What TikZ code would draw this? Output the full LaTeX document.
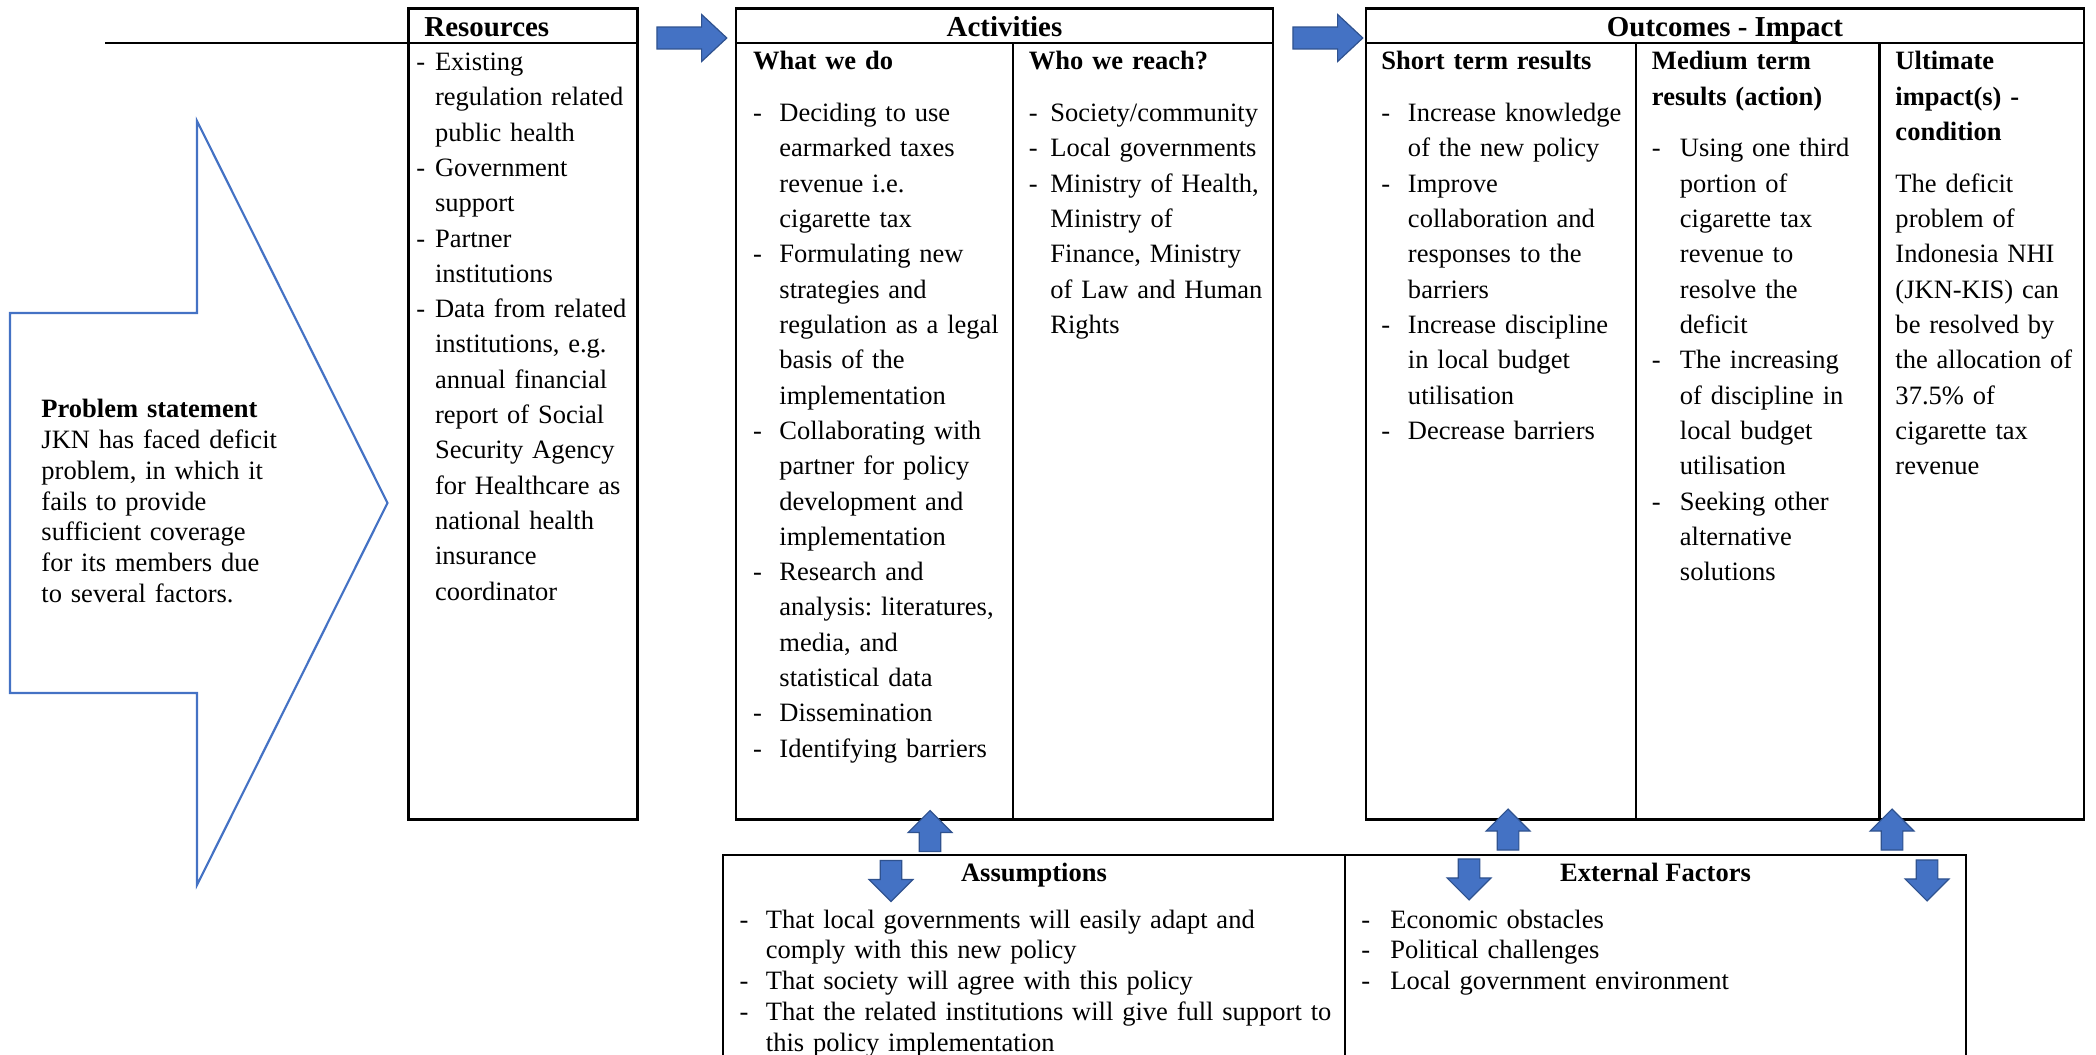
\documentclass[tikz,border=0pt]{standalone}
\usepackage{fontspec}
\setmainfont{Liberation Serif}
\usepackage{tikz}
\usetikzlibrary{positioning,fit,shapes.arrows}

\definecolor{boxblue}{HTML}{4472C4}
\definecolor{edgeblue}{HTML}{2F528F}

% dash list item with hanging indent
\newlength{\dashind}
\newcommand{\ditem}[1]{\hangindent=\dashind\hangafter=1\noindent\makebox[\dashind][l]{-}#1\par}

\begin{document}
\frenchspacing
\begin{tikzpicture}[
    x=0.415pt, y=-0.415pt,
    panel/.style={draw, line width=1pt, inner sep=0pt},
    sepline/.style={line width=1pt},
    boxtitle/.style={anchor=base, inner sep=0pt, font=\fontsize{12}{14}\selectfont\bfseries},
    subtitle/.style={anchor=base, inner sep=0pt, font=\fontsize{11}{13}\selectfont\bfseries},
    celltext/.style={anchor=base west, inner sep=0pt, font=\fontsize{11}{14.65}\selectfont},
    listsg/.style={anchor=base west, inner sep=0pt, font=\fontsize{11}{12.8}\selectfont},
    flatarr/.style={single arrow, draw=edgeblue, fill=boxblue, line width=0.5pt,
                    inner sep=4.3pt, minimum height=29pt, minimum width=19pt,
                    single arrow head extend=5.2pt, single arrow tip angle=86},
    vertarr/.style={single arrow, draw=edgeblue, fill=boxblue, line width=0.5pt,
                    inner sep=4.25pt, minimum height=17pt, minimum width=17.8pt,
                    single arrow head extend=4.6pt, single arrow tip angle=90},
    probline/.style={draw=boxblue, line width=0.9pt},
  ]
  \useasboundingbox (0,0) rectangle (2096,1055);
  \clip (0,0) rectangle (2096,1055);

  % Panels
  \node[panel, fit={(408.5,8.5) (637.5,819.5)}] (res) {};
  \node[panel, fit={(736,8.5) (1273,819.5)}] (act) {};
  \node[panel, fit={(1366,8.5) (2084,819.5)}] (out) {};
  \node[panel, fit={(723,855) (1345,1080)}] (asm) {};
  \node[panel, fit={(1345,855) (1966,1080)}] (ext) {};

  % Header rows and column rules
  \coordinate (hdr) at (0,43);
  \draw[sepline] (res.west |- hdr) -- (res.east |- hdr);
  \draw[sepline] (act.west |- hdr) -- (act.east |- hdr);
  \draw[sepline] (out.west |- hdr) -- (out.east |- hdr);
  \draw[sepline] (1013,43) -- (1013,819.5);
  \draw[sepline] (1636,43) -- (1636,819.5);
  \draw[sepline] (1879.5,43) -- (1879.5,819.5);

  % Lead line into Resources
  \coordinate (lead) at (105,43);
  \draw[sepline] (lead) -- (res.west |- hdr);

  % Problem statement arrow
  \draw[probline] (10,313) -- (197,313) -- (197,121) -- (387.5,503)
    -- (197,885) -- (197,693) -- (10,693) -- cycle;
  \node[listsg, text width=100pt] (prob) at (41,417.5) {\textbf{Problem statement}\newline
    JKN has faced deficit\newline problem, in which it\newline fails to provide\newline
    sufficient coverage\newline for its members due\newline to several factors.};

  % Titles
  \node[boxtitle, anchor=base west] (restitle) at (424,36.7) {Resources};
  \node[boxtitle] (acttitle) at (1004.5,36.7) {Activities};
  \node[boxtitle] (outtitle) at (1725,36.7) {Outcomes - Impact};

  % Resources column
  \node[celltext, text width=89pt] (reslist) at (416,70.5) {\setlength{\dashind}{7.7pt}%
    \ditem{Existing\newline regulation related\newline public health}%
    \ditem{Government\newline support}%
    \ditem{Partner\newline institutions}%
    \ditem{Data from related\newline institutions, e.g.\newline annual financial\newline
      report of Social\newline Security Agency\newline for Healthcare as\newline
      national health\newline insurance\newline coordinator}};

  % Activities columns
  \node[celltext, text width=105pt] (dolist) at (752.7,70) {\setlength{\dashind}{10.9pt}%
    \textbf{What we do}\par\vspace{6.8pt}%
    \ditem{Deciding to use\newline earmarked taxes\newline revenue i.e.\newline cigarette tax}%
    \ditem{Formulating new\newline strategies and\newline regulation as a legal\newline
      basis of the\newline implementation}%
    \ditem{Collaborating with\newline partner for policy\newline development and\newline implementation}%
    \ditem{Research and\newline analysis: literatures,\newline media, and\newline statistical data}%
    \ditem{Dissemination}%
    \ditem{Identifying barriers}};
  \node[celltext, text width=99pt] (reachlist) at (1028.5,70) {\setlength{\dashind}{8.9pt}%
    \textbf{Who we reach?}\par\vspace{6.8pt}%
    \ditem{Society/community}%
    \ditem{Local governments}%
    \ditem{Ministry of Health,\newline Ministry of\newline Finance, Ministry\newline
      of Law and Human\newline Rights}};

  % Outcomes columns
  \node[celltext, text width=103pt] (shortlist) at (1381,70) {\setlength{\dashind}{11pt}%
    \textbf{Short term results}\par\vspace{6.8pt}%
    \ditem{Increase knowledge\newline of the new policy}%
    \ditem{Improve\newline collaboration and\newline responses to the\newline barriers}%
    \ditem{Increase discipline\newline in local budget\newline utilisation}%
    \ditem{Decrease barriers}};
  \node[celltext, text width=93pt] (medlist) at (1651.5,70) {\setlength{\dashind}{11.6pt}%
    \textbf{Medium term\newline results (action)}\par\vspace{6.8pt}%
    \ditem{Using one third\newline portion of\newline cigarette tax\newline revenue to\newline
      resolve the\newline deficit}%
    \ditem{The increasing\newline of discipline in\newline local budget\newline utilisation}%
    \ditem{Seeking other\newline alternative\newline solutions}};
  \node[celltext, text width=77pt] (ultlist) at (1895,70) {%
    \textbf{Ultimate\newline impact(s) -\newline condition}\par\vspace{6.8pt}%
    The deficit\newline problem of\newline Indonesia NHI\newline (JKN-KIS) can\newline
    be resolved by\newline the allocation of\newline 37.5\% of\newline cigarette tax\newline revenue};

  % Assumptions and external factors
  \node[subtitle] (asmtitle) at (1034,881.7) {Assumptions};
  \node[listsg, text width=249pt] (asmlist) at (739.2,928) {\setlength{\dashind}{10.9pt}%
    \ditem{That local governments will easily adapt and\newline comply with this new policy}%
    \ditem{That society will agree with this policy}%
    \ditem{That the related institutions will give full support to\newline this policy implementation}};
  \node[subtitle] (exttitle) at (1655.5,881.7) {External Factors};
  \node[listsg, text width=250pt] (extlist) at (1361,928) {\setlength{\dashind}{12pt}%
    \ditem{Economic obstacles}%
    \ditem{Political challenges}%
    \ditem{Local government environment}};

  % Block arrows
  \node[flatarr] (resarr) at (686,38) {};
  \node[flatarr] (actarr) at (1322,38) {};
  \node[vertarr, shape border rotate=90] (asmup) at (930,836.5) {};
  \node[vertarr, shape border rotate=270] (asmdown) at (891,875.5) {};
  \node[vertarr, shape border rotate=90] (extupA) at (1508,835) {};
  \node[vertarr, shape border rotate=270] (extdownA) at (1469,874) {};
  \node[vertarr, shape border rotate=90] (extupB) at (1892,835) {};
  \node[vertarr, shape border rotate=270] (extdownB) at (1927,875) {};

\end{tikzpicture}
\end{document}
